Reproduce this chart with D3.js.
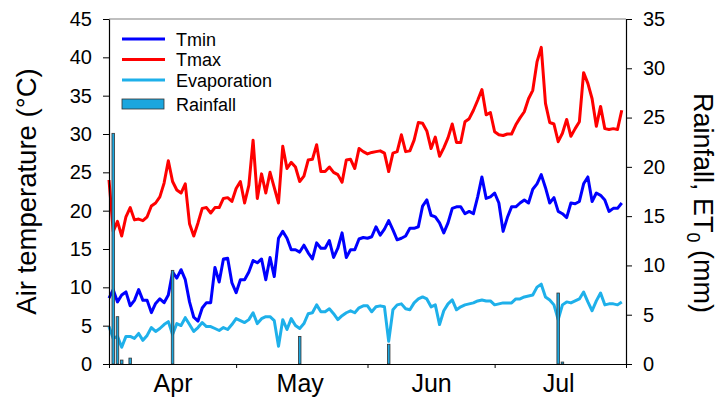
<!DOCTYPE html>
<html>
<head>
<meta charset="utf-8">
<script src="https://cdn.jsdelivr.net/npm/d3@7"></script>
<style>
  html, body { margin: 0; padding: 0; background: #fff; }
  svg { display: block; font-family: "Liberation Sans", Arial, sans-serif; }
</style>
</head>
<body>
<svg id="chart" width="720" height="405"></svg>
<script>
// ---------- data ----------
const startDate = "2000-04-01";
const endDate = "2000-08-01";
const monthTicks = ["2000-04-01", "2000-05-01", "2000-06-01", "2000-07-01", "2000-08-01"];
const monthLabels = ["Apr", "May", "Jun", "Jul"];
const monthLabelDates = ["2000-04-16", "2000-05-16", "2000-06-16", "2000-07-16"];
const leftTicks = [0, 5, 10, 15, 20, 25, 30, 35, 40, 45];
const rightTicks = [0, 5, 10, 15, 20, 25, 30, 35];

const tmin = [8.6, 9.7, 8.1, 9.0, 9.4, 7.6, 8.3, 9.7, 8.3, 8.3,
  6.7, 7.9, 8.5, 8.0, 9.0, 12.0, 11.2, 12.3, 11.0, 8.1,
  6.1, 5.6, 7.3, 8.0, 8.0, 12.6, 10.7, 13.7, 13.8, 10.6,
  9.3, 11.0, 11.0, 12.0, 13.5, 13.2, 13.7, 11.0, 13.9, 11.4,
  16.4, 17.3, 16.4, 14.9, 14.9, 14.6, 15.5, 14.5, 13.7, 15.8,
  15.1, 15.1, 16.1, 13.9, 15.1, 17.1, 13.9, 14.9, 14.9, 16.3,
  16.5, 16.4, 16.6, 17.9, 16.8, 17.6, 18.7, 17.5, 16.2, 16.4,
  16.7, 17.7, 17.7, 17.9, 20.6, 21.4, 19.4, 19.2, 18.4, 17.1,
  18.4, 20.3, 20.5, 20.5, 19.6, 19.9, 19.6, 21.8, 24.4, 21.6,
  21.8, 22.3, 21.0, 17.3, 19.1, 20.5, 20.5, 21.0, 21.4, 21.0,
  22.8, 23.5, 24.7, 23.0, 21.0, 21.7, 19.9, 19.6, 19.1, 21.0,
  20.9, 21.2, 23.5, 24.4, 21.2, 22.3, 22.0, 21.4, 19.9, 20.3,
  20.3, 21.0];

const tmax = [24.0, 17.3, 18.6, 16.7, 19.2, 20.4, 18.8, 18.9, 18.7, 19.2,
  20.6, 21.0, 21.8, 23.6, 26.5, 23.8, 22.7, 22.3, 23.5, 18.3,
  16.7, 18.4, 20.3, 20.4, 19.7, 20.4, 20.4, 21.6, 21.7, 21.2,
  22.9, 23.8, 21.0, 23.3, 29.2, 21.6, 24.8, 22.3, 25.0, 23.0,
  21.0, 28.4, 25.5, 26.3, 25.7, 23.8, 24.5, 26.6, 26.7, 28.6,
  25.1, 25.1, 25.7, 25.0, 24.7, 23.7, 26.6, 26.7, 25.5, 28.1,
  27.7, 27.4, 27.6, 27.7, 27.8, 27.5, 25.1, 27.5, 27.7, 29.9,
  27.7, 27.8, 29.2, 31.5, 31.4, 30.4, 28.1, 29.6, 27.1, 28.2,
  29.5, 31.3, 28.9, 28.9, 31.6, 32.0, 33.1, 34.4, 35.8, 32.5,
  32.8, 30.3, 29.9, 29.8, 30.0, 30.0, 31.2, 32.1, 32.9, 34.6,
  35.7, 39.4, 41.3, 34.0, 31.5, 31.3, 29.0, 30.1, 31.9, 29.7,
  30.7, 31.6, 38.0, 36.6, 34.6, 31.0, 33.6, 30.7, 30.6, 30.7,
  30.6, 33.1];

const evaporation = [3.8, 2.6, 2.8, 1.7, 2.8, 2.8, 2.6, 3.1, 2.4, 2.9,
  3.7, 3.3, 3.6, 4.0, 4.3, 3.0, 4.1, 3.9, 4.7, 4.0,
  3.3, 3.7, 4.2, 3.8, 3.8, 3.6, 3.4, 3.7, 3.5, 4.0,
  4.6, 4.4, 4.2, 4.5, 5.2, 4.1, 4.6, 4.8, 4.8, 4.4,
  1.8, 4.5, 3.5, 4.6, 3.9, 3.6, 4.1, 5.1, 5.2, 6.0,
  5.3, 5.3, 5.6, 5.1, 4.5, 4.9, 5.2, 5.4, 5.2, 5.7,
  5.9, 5.9, 5.3, 5.8, 5.9, 5.8, 2.3, 5.5, 6.0, 6.1,
  5.6, 5.5, 6.2, 6.6, 6.8, 6.6, 5.8, 6.0, 4.0, 5.4,
  6.1, 6.5, 5.5, 5.8, 6.0, 6.1, 6.2, 6.4, 6.5, 6.4,
  6.4, 6.0, 6.1, 6.2, 6.2, 6.2, 6.6, 6.6, 6.8, 6.9,
  7.0, 7.8, 8.1, 6.8, 6.5, 6.0, 4.5, 6.0, 6.3, 6.2,
  6.4, 6.6, 7.3, 6.3, 5.4, 6.4, 7.2, 6.0, 6.1, 6.1,
  6.0, 6.3];

const rainDates = ["2000-04-02", "2000-04-03", "2000-04-04", "2000-04-06", "2000-04-16",
  "2000-05-16", "2000-06-06", "2000-07-16", "2000-07-17"];
const rainfall = [23.4, 4.8, 0.4, 0.6, 9.5, 2.8, 2.0, 7.2, 0.2];

// ---------- chart ----------
const parse = d3.utcParse("%Y-%m-%d");
const days = d3.utcDay.range(parse(startDate), parse(endDate));

const svg = d3.select("#chart");
const m = { left: 109, right: 626, top: 19, bottom: 364 };

const x = d3.scaleUtc().domain([parse(startDate), parse(endDate)]).range([m.left, m.right]);
const yL = d3.scaleLinear().domain([0, 45]).range([m.bottom, m.top]);
const yR = d3.scaleLinear().domain([0, 35]).range([m.bottom, m.top]);

const COL_TMIN = "#0000ff", COL_TMAX = "#ff0000", COL_EVAP = "#1eb0ea", COL_RAIN = "#1ba6de";

// top frame
svg.append("line")
  .attr("x1", m.left).attr("x2", m.right)
  .attr("y1", m.top).attr("y2", m.top)
  .attr("stroke", "#808080").attr("stroke-width", 1.2);

// lines
const lineL = arr => d3.line().x((d, i) => x(days[i])).y(d => yL(d))(arr);
const lineR = arr => d3.line().x((d, i) => x(days[i])).y(d => yR(d))(arr);

svg.append("path").attr("d", lineR(evaporation))
  .attr("fill", "none").attr("stroke", COL_EVAP).attr("stroke-width", 3).attr("stroke-linejoin", "round");
svg.append("path").attr("d", lineL(tmin))
  .attr("fill", "none").attr("stroke", COL_TMIN).attr("stroke-width", 3).attr("stroke-linejoin", "round");
svg.append("path").attr("d", lineL(tmax))
  .attr("fill", "none").attr("stroke", COL_TMAX).attr("stroke-width", 3).attr("stroke-linejoin", "round");

// rainfall bars
const dayMs = 86400000;
svg.append("g").selectAll("rect").data(rainfall).join("rect")
  .attr("x", (d, i) => x(new Date(parse(rainDates[i]).getTime() - 0.3 * dayMs)))
  .attr("width", (d, i) => x(new Date(parse(rainDates[i]).getTime() + 0.3 * dayMs)) - x(new Date(parse(rainDates[i]).getTime() - 0.3 * dayMs)))
  .attr("y", d => yR(d))
  .attr("height", d => yR(0) - yR(d))
  .attr("fill", COL_RAIN).attr("stroke", "#333").attr("stroke-width", 0.8);

// axes
const gL = svg.append("g").attr("transform", `translate(${m.left},0)`)
  .call(d3.axisLeft(yL).tickValues(leftTicks).tickSize(6).tickSizeOuter(0).tickPadding(11));
const gR = svg.append("g").attr("transform", `translate(${m.right},0)`)
  .call(d3.axisRight(yR).tickValues(rightTicks).tickSize(6).tickSizeOuter(0).tickPadding(11));
const gB = svg.append("g").attr("transform", `translate(0,${m.bottom})`)
  .call(d3.axisBottom(x).tickValues(monthTicks.map(parse)).tickSize(4).tickSizeOuter(0).tickFormat(""));
const gM = svg.append("g").attr("transform", `translate(0,${m.bottom})`)
  .call(d3.axisBottom(x).tickValues(monthLabelDates.map(parse)).tickSize(0)
    .tickPadding(10.5).tickFormat((d, i) => monthLabels[i]));
gM.select(".domain").remove();

[gL, gR, gB, gM].forEach(g => {
  g.attr("color", "#000");
  g.selectAll("text").attr("font-family", "Liberation Sans, Arial, sans-serif").attr("fill", "#000");
  g.selectAll("path.domain").attr("stroke-width", 1.2);
});
gL.selectAll("text").attr("font-size", 20);
gR.selectAll("text").attr("font-size", 20);
gM.selectAll("text").attr("font-size", 25);

// titles
svg.append("text")
  .attr("transform", `translate(36,${(m.top + m.bottom) / 2}) rotate(-90)`)
  .attr("text-anchor", "middle").attr("font-size", 27.5).attr("fill", "#000")
  .text("Air temperature (°C)");

const rt = svg.append("text")
  .attr("transform", `translate(694,203) rotate(90)`)
  .attr("text-anchor", "middle").attr("font-size", 27).attr("fill", "#000");
rt.append("tspan").text("Rainfall, ET");
rt.append("tspan").attr("font-size", 18).attr("dy", 7).text("0");
rt.append("tspan").attr("dy", -7).text(" (mm)");

// legend
const legendItems = [
  { name: "Tmin", color: COL_TMIN, type: "line", y: 39 },
  { name: "Tmax", color: COL_TMAX, type: "line", y: 59.5 },
  { name: "Evaporation", color: COL_EVAP, type: "line", y: 80 },
  { name: "Rainfall", color: COL_RAIN, type: "rect", y: 104 }
];
const lg = svg.append("g");
legendItems.forEach(it => {
  if (it.type === "line") {
    lg.append("line").attr("x1", 122).attr("x2", 165).attr("y1", it.y).attr("y2", it.y)
      .attr("stroke", it.color).attr("stroke-width", 3.2);
  } else {
    lg.append("rect").attr("x", 122).attr("y", it.y - 5).attr("width", 42).attr("height", 10)
      .attr("fill", it.color).attr("stroke", "#333").attr("stroke-width", 0.8);
  }
  lg.append("text").attr("x", 176).attr("y", it.y + 6.5).attr("font-size", 18).attr("fill", "#000").text(it.name);
});
</script>
</body>
</html>
